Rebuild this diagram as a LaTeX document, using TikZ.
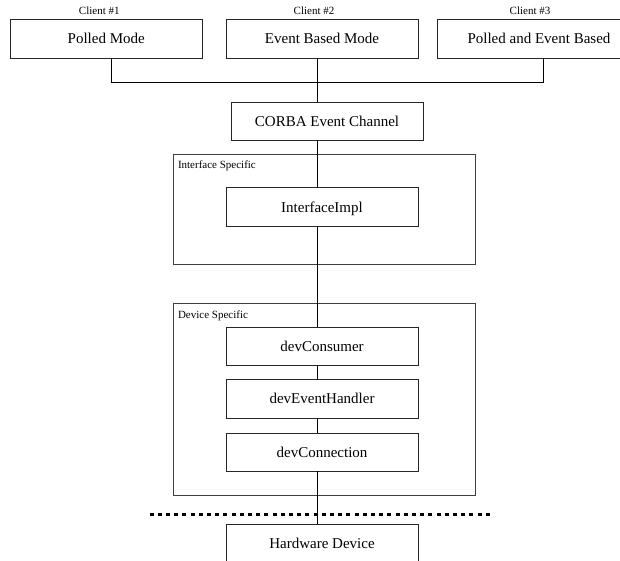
\documentclass[tikz,border=0pt]{standalone}
\usepackage{fontspec}
\setmainfont{Liberation Serif}
\begin{document}
\begin{tikzpicture}[x=1pt,y=-1pt,
  every node/.style={inner sep=0pt, outer sep=0pt},
  block/.style={draw=black!85, line width=0.9pt, anchor=north west,
    minimum width=192pt, minimum height=38.6pt,
    font=\fontsize{15}{18}\selectfont, text height=10pt, text depth=0pt},
  frame/.style={draw=black!75, line width=0.9pt, anchor=north west,
    minimum width=302pt},
  tag/.style={font=\fontsize{11}{13}\selectfont, anchor=base},
  caption/.style={font=\fontsize{11}{13}\selectfont, anchor=base west},
  link/.style={draw=black, line width=0.8pt},
  divider/.style={line width=3.5pt, dash pattern=on 4pt off 4.2pt}
]
\useasboundingbox (0,0) rectangle (620,560);
\clip (0,0) rectangle (620,560);

% grouping frames
\node[frame, minimum height=110.6pt] (ifframe) at (173.6,154) {};
\node[caption] (iflabel) at ([shift={(4.4pt,-14.8pt)}]ifframe.north west) {Interface Specific};
\node[frame, minimum height=191.8pt] (devframe) at (173.6,303.2) {};
\node[caption] (devlabel) at ([shift={(4.4pt,-15pt)}]devframe.north west) {Device Specific};

% client boxes
\node[block, minimum width=192.5pt] (c1) at (10,19.5) {Polled Mode};
\node[block] (c2) at (226,19.5) {Event Based Mode};
\node[block, minimum width=204pt] (c3) at (437,19.5) {Polled and Event Based};
\node[tag] (t1) at ([shift={(-7pt,5.3pt)}]c1.north) {Client \#1};
\node[tag] (t2) at ([shift={(-8pt,5.3pt)}]c2.north) {Client \#2};
\node[tag] (t3) at ([shift={(-9pt,5.3pt)}]c3.north) {Client \#3};

% server-side chain
\node[block, minimum height=38pt] (corba) at (231,102) {CORBA Event Channel};
\node[block, minimum height=38.7pt] (impl) at (226,187.7) {InterfaceImpl};
\node[block, minimum height=38.4pt] (cons) at (226,327) {devConsumer};
\node[block, minimum height=38.5pt] (handler) at (226,379.7) {devEventHandler};
\node[block, minimum height=38.4pt] (conn) at (226,433) {devConnection};
\node[block, minimum height=38pt] (hw) at (226,524) {Hardware Device};

% hardware boundary
\coordinate (dl) at (149.5,514.6);
\coordinate (dr) at (491.5,514.6);
\draw[divider] (dl) -- (dr);

% connectors
\coordinate (bus) at (317.5,82);
\draw[link] ([xshift=4.75pt]c1.south) |- (bus);
\draw[link] ([xshift=4pt]c3.south) |- (bus);
\draw[link] (c2.south -| bus) -- (corba.north -| bus);
\draw[link] (corba.south -| bus) -- (impl.north -| bus);
\draw[link] (impl.south -| bus) -- (cons.north -| bus);
\draw[link] (cons.south -| bus) -- (handler.north -| bus);
\draw[link] (handler.south -| bus) -- (conn.north -| bus);
\draw[link] (conn.south -| bus) -- (hw.north -| bus);
\end{tikzpicture}
\end{document}
